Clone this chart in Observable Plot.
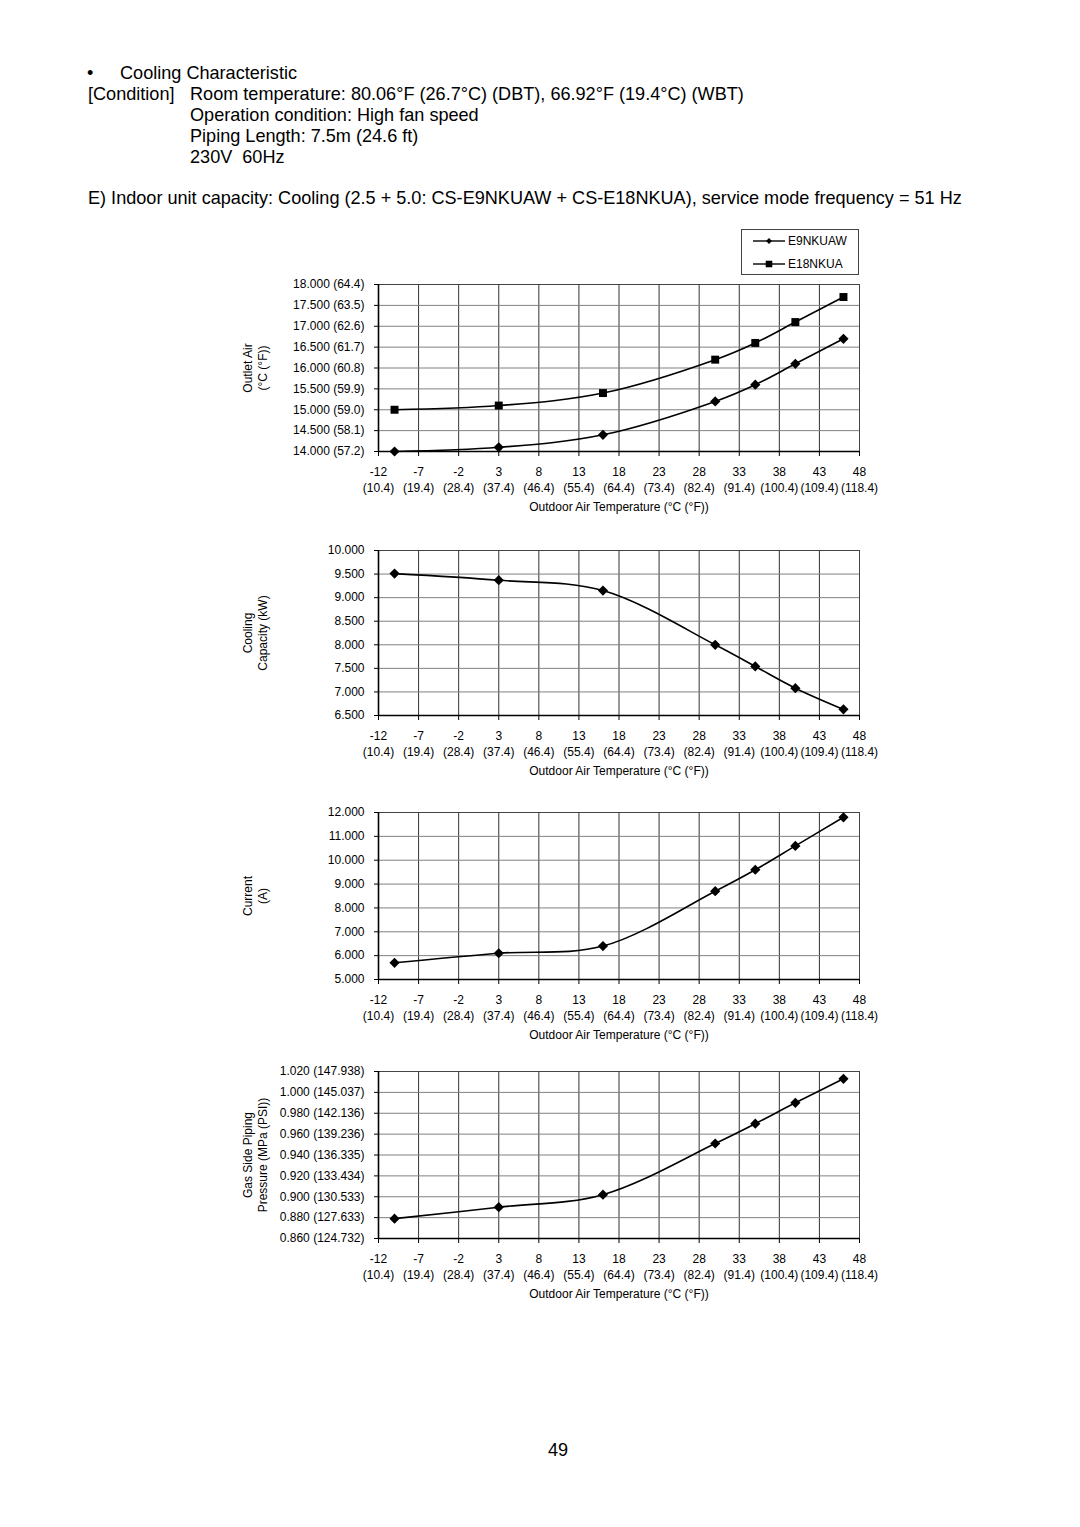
<!DOCTYPE html>
<html>
<head>
<meta charset="utf-8">
<script src="https://cdn.jsdelivr.net/npm/d3@7"></script>
<script src="https://cdn.jsdelivr.net/npm/@observablehq/plot@0.6"></script>
<style>
  html, body { margin: 0; padding: 0; background: #fff; }
  body { width: 1080px; height: 1527px; position: relative; overflow: hidden;
         font-family: "Liberation Sans", Arial, sans-serif; color: #000; }
  .t { position: absolute; font-size: 18.1px; line-height: 20px; white-space: nowrap; }
  .chart { position: absolute; left: 0; }
  .chart svg { font-family: "Liberation Sans", Arial, sans-serif; }
</style>
</head>
<body>
<div class="t" style="left:87px; top:63px;">•</div>
<div class="t" style="left:120px; top:63px;">Cooling Characteristic</div>
<div class="t" style="left:88px; top:84px;">[Condition]</div>
<div class="t" style="left:190px; top:84px;">Room temperature: 80.06°F (26.7°C) (DBT), 66.92°F (19.4°C) (WBT)</div>
<div class="t" style="left:190px; top:105px;">Operation condition: High fan speed</div>
<div class="t" style="left:190px; top:126px;">Piping Length: 7.5m (24.6 ft)</div>
<div class="t" style="left:190px; top:147px;">230V&nbsp;&nbsp;60Hz</div>
<div class="t" style="left:88px; top:188px;">E) Indoor unit capacity: Cooling (2.5 + 5.0: CS-E9NKUAW + CS-E18NKUA), service mode frequency = 51 Hz</div>
<div class="t" style="left:548px; top:1440px;">49</div>

<div id="legend" class="chart" style="top:229px; left:741px;"></div>
<div id="c1" class="chart"></div>
<div id="c2" class="chart"></div>
<div id="c3" class="chart"></div>
<div id="c4" class="chart"></div>

<script>
// ---------- data ----------
const outdoorTemp = [-10, 3, 16, 30, 35, 40, 46];

const outletE9 = [14.0, 14.1, 14.4, 15.2, 15.6, 16.1, 16.7];
const outletE18 = [15.0, 15.1, 15.4, 16.2, 16.6, 17.1, 17.7];
const coolingCapacity = [9.51, 9.37, 9.15, 8.00, 7.54, 7.08, 6.63];
const current = [5.7, 6.1, 6.4, 8.7, 9.6, 10.6, 11.8];
const gasPressure = [0.879, 0.890, 0.902, 0.951, 0.970, 0.990, 1.013];

const seriesNames = ["E9NKUAW", "E18NKUA"];

const xTicks = [-12, -7, -2, 3, 8, 13, 18, 23, 28, 33, 38, 43, 48];
const xTickLabels = ["-12\n(10.4)", "-7\n(19.4)", "-2\n(28.4)", "3\n(37.4)", "8\n(46.4)", "13\n(55.4)",
  "18\n(64.4)", "23\n(73.4)", "28\n(82.4)", "33\n(91.4)", "38\n(100.4)", "43\n(109.4)", "48\n(118.4)"];
const xTitle = "Outdoor Air Temperature (°C (°F))";

const y1Ticks = [14.0, 14.5, 15.0, 15.5, 16.0, 16.5, 17.0, 17.5, 18.0];
const y1Labels = ["14.000 (57.2)", "14.500 (58.1)", "15.000 (59.0)", "15.500 (59.9)", "16.000 (60.8)",
  "16.500 (61.7)", "17.000 (62.6)", "17.500 (63.5)", "18.000 (64.4)"];
const y1Title = "Outlet Air\n(°C (°F))";

const y2Ticks = [6.5, 7.0, 7.5, 8.0, 8.5, 9.0, 9.5, 10.0];
const y2Labels = ["6.500", "7.000", "7.500", "8.000", "8.500", "9.000", "9.500", "10.000"];
const y2Title = "Cooling\nCapacity (kW)";

const y3Ticks = [5, 6, 7, 8, 9, 10, 11, 12];
const y3Labels = ["5.000", "6.000", "7.000", "8.000", "9.000", "10.000", "11.000", "12.000"];
const y3Title = "Current\n(A)";

const y4Ticks = [0.86, 0.88, 0.90, 0.92, 0.94, 0.96, 0.98, 1.00, 1.02];
const y4Labels = ["0.860 (124.732)", "0.880 (127.633)", "0.900 (130.533)", "0.920 (133.434)", "0.940 (136.335)",
  "0.960 (139.236)", "0.980 (142.136)", "1.000 (145.037)", "1.020 (147.938)"];
const y4Title = "Gas Side Piping\nPressure (MPa (PSI))";

// ---------- helpers ----------
const PLOT_LEFT = 378, PLOT_RIGHT = 859;
const MT = 10, MB = 80;
const FS = 12;

function chart(el, plotTop, plotHeight, yTicks, yLabels, yTitle, series) {
  const yDomain = [yTicks[0], yTicks[yTicks.length - 1]];
  const marks = [
    Plot.gridX(xTicks, {stroke: "#333", strokeOpacity: 1, strokeWidth: 1}),
    Plot.gridY(yTicks, {stroke: "#808080", strokeOpacity: 1, strokeWidth: 1}),
    Plot.frame({stroke: "#444", strokeWidth: 1}),
    Plot.ruleX([xTicks[0]], {stroke: "#000", strokeWidth: 1.6}),
    Plot.ruleY([yDomain[0]], {stroke: "#000", strokeWidth: 1.6}),
    Plot.axisX(xTicks, {tickSize: 5, tickFormat: () => "", stroke: "#000", label: null}),
    Plot.axisY(yTicks, {tickSize: 4, tickPadding: 10, fontSize: FS, stroke: "#000", label: null,
      tickFormat: d => yLabels[yTicks.indexOf(d)]}),
    Plot.text(xTicks, {x: d => d, text: (d, i) => xTickLabels[i], frameAnchor: "bottom",
      dy: 13, lineAnchor: "top", lineHeight: 1.34, fontSize: FS}),
    Plot.text([xTitle], {frameAnchor: "bottom", dy: 59, text: d => d, fontSize: FS}),
    Plot.text([yTitle], {frameAnchor: "left", dx: -124, text: d => d, rotate: -90,
      textAnchor: "middle", lineAnchor: "middle", lineHeight: 1.3, fontSize: FS})
  ];
  for (const s of series) {
    const data = outdoorTemp.map((x, i) => ({x, y: s.values[i]}));
    marks.push(Plot.line(data, {x: "x", y: "y", curve: "catmull-rom", stroke: "#000", strokeWidth: 1.6}));
    marks.push(Plot.dot(data, {x: "x", y: "y", symbol: s.symbol, fill: "#000", stroke: "none", r: s.r}));
  }
  const p = Plot.plot({
    width: 1080,
    height: MT + plotHeight + MB,
    marginLeft: PLOT_LEFT,
    marginRight: 1080 - PLOT_RIGHT,
    marginTop: MT,
    marginBottom: MB,
    style: {fontFamily: "'Liberation Sans', Arial, sans-serif", fontSize: FS + "px", color: "#000", background: "transparent"},
    x: {domain: [xTicks[0], xTicks[xTicks.length - 1]]},
    y: {domain: yDomain},
    marks
  });
  const d = document.getElementById(el);
  d.style.top = (plotTop - MT) + "px";
  d.appendChild(p);
}

const diamond = {symbol: "diamond2", r: 4.6};
const square = {symbol: "square", r: 4.5};

chart("c1", 284, 167, y1Ticks, y1Labels, y1Title, [
  {values: outletE9, ...diamond},
  {values: outletE18, ...square}
]);
chart("c2", 550, 165, y2Ticks, y2Labels, y2Title, [{values: coolingCapacity, ...diamond}]);
chart("c3", 812, 167, y3Ticks, y3Labels, y3Title, [{values: current, ...diamond}]);
chart("c4", 1071, 167, y4Ticks, y4Labels, y4Title, [{values: gasPressure, ...diamond}]);

// ---------- legend ----------
(function () {
  const W = 118, H = 46;
  const svg = d3.select("#legend").append("svg").attr("width", W).attr("height", H)
    .style("font-family", "'Liberation Sans', Arial, sans-serif");
  svg.append("rect").attr("x", 0.5).attr("y", 0.5).attr("width", W - 1).attr("height", H - 1)
    .attr("fill", "#fff").attr("stroke", "#444");
  const rows = [{name: seriesNames[0], sym: d3.symbolDiamond2, size: 22},
                {name: seriesNames[1], sym: d3.symbolSquare2, size: 55}];
  rows.forEach((r, i) => {
    const cy = 12 + i * 23;
    const g = svg.append("g");
    g.append("line").attr("x1", 12).attr("x2", 44).attr("y1", cy).attr("y2", cy)
      .attr("stroke", "#000").attr("stroke-width", 1.4);
    g.append("path").attr("d", d3.symbol(r.sym, r.size)()).attr("transform", `translate(28,${cy})`)
      .attr("fill", "#000");
    g.append("text").attr("x", 47).attr("y", cy).attr("dy", "0.35em")
      .attr("font-size", 12).text(r.name);
  });
})();
</script>
</body>
</html>
